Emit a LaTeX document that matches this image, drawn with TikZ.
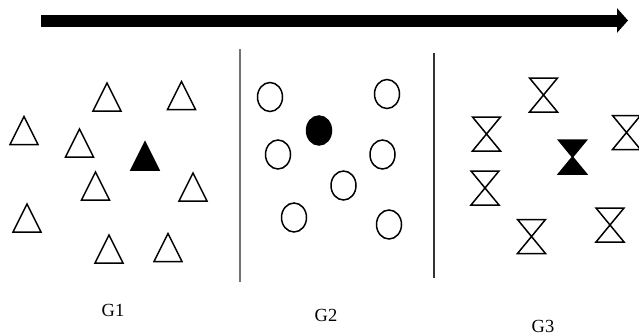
\documentclass[tikz,border=0pt]{standalone}
\usepackage{fontspec}
\setmainfont{Liberation Serif}
\usetikzlibrary{arrows.meta,shapes.geometric}
\tikzset{
  tri/.pic={\draw[pic actions] (-14,14) -- (0,-14) -- (14,14) -- cycle;},
  hglass/.pic={\draw[pic actions] (-14,-17) -- (14,-17) -- (-14,17) -- (14,17) -- cycle;},
  dot/.style={ellipse,draw,line width=1.5pt,inner sep=0pt,minimum width=25pt,minimum height=29pt},
  glabel/.style={font=\fontsize{18.5}{20}\selectfont,inner sep=1pt}
}

\begin{document}
\begin{tikzpicture}[x=1pt,y=-1pt,line width=1.5pt,line join=miter]
\useasboundingbox (0,0) rectangle (639,335);
% time arrow
\coordinate (tstart) at (41,20.5);
\coordinate (tend) at (628,20.5);
\draw[line width=12pt,-{Triangle[length=11pt,width=24pt]}] (tstart) -- (tend);
% separators
\coordinate (s1top) at (240,49);
\coordinate (s1bot) at (240,282);
\coordinate (s2top) at (434,53);
\coordinate (s2bot) at (434,278);
\draw[black!55,line width=1.1pt] (s1top) -- (s1bot);
\draw[black!80,line width=1.1pt] (s2top) -- (s2bot);
% G1: triangles
\pic (t1) at (107,97) {tri};
\pic (t2) at (181.5,95.5) {tri};
\pic (t3) at (24,130.5) {tri};
\pic (t4) at (79.5,143) {tri};
\pic[fill=black] (t5) at (145,156) {tri};
\pic (t6) at (95.5,186) {tri};
\pic (t7) at (193,187) {tri};
\pic (t8) at (27,218) {tri};
\pic (t9) at (109,249) {tri};
\pic (t10) at (168,247.5) {tri};
% G2: circles
\node[dot] (c1) at (270,97) {};
\node[dot] (c2) at (387,94) {};
\node[dot,fill=black] (c3) at (319,130.5) {};
\node[dot] (c4) at (278,154.5) {};
\node[dot] (c5) at (382.5,154.5) {};
\node[dot] (c6) at (343.5,185.5) {};
\node[dot] (c7) at (294,217.5) {};
\node[dot] (c8) at (389,224.5) {};
% G3: hourglasses
\pic (h1) at (543.5,95) {hglass};
\pic (h2) at (486.5,134) {hglass};
\pic (h3) at (626.5,132.5) {hglass};
\pic[fill=black] (h4) at (572.5,157) {hglass};
\pic (h5) at (485,188) {hglass};
\pic (h6) at (610,225) {hglass};
\pic (h7) at (531.5,236.5) {hglass};
% group labels
\node[glabel] (g1) at (113,310.5) {G1};
\node[glabel] (g2) at (326,315.5) {G2};
\node[glabel] (g3) at (543,326) {G3};
\end{tikzpicture}
\end{document}
